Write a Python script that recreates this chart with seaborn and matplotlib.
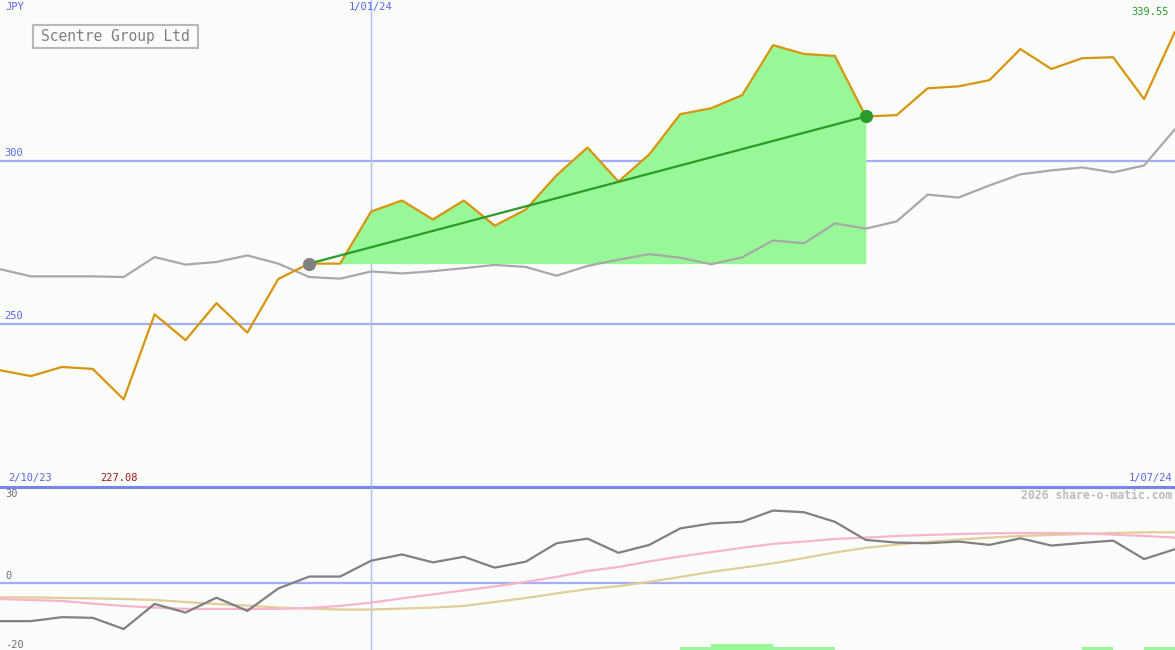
import numpy as np
import matplotlib
matplotlib.use('Agg')
import matplotlib.pyplot as plt
import matplotlib.transforms as mtransforms
from matplotlib.patches import Rectangle
import seaborn as sns

# ---------------------------------------------------------------------------
# Dane (tygodniowe, 2/10/23 - 1/07/24)
# ---------------------------------------------------------------------------
price = [236.0, 234.2, 237.0, 236.4, 227.08, 253.1, 245.2, 256.5, 247.5, 263.9,
         268.6, 268.6, 284.5, 287.9, 282.1, 287.9, 280.2, 285.1, 295.6, 304.1,
         293.7, 302.0, 314.3, 316.1, 320.1, 335.4, 332.7, 332.1, 313.6, 314.0,
         322.2, 322.8, 324.7, 334.2, 328.1, 331.4, 331.7, 318.9, 339.55]

index_rel = [266.9, 264.7, 264.7, 264.7, 264.5, 270.6, 268.3, 269.1, 271.1, 268.6,
             264.5, 264.0, 266.2, 265.6, 266.3, 267.2, 268.2, 267.6, 264.9, 267.9,
             269.8, 271.5, 270.4, 268.4, 270.5, 275.7, 274.8, 280.9, 279.3, 281.5,
             289.7, 288.8, 292.5, 295.9, 297.1, 298.0, 296.5, 298.6, 309.7]

osc = [-11.4, -11.4, -10.2, -10.4, -13.8, -6.2, -8.8, -4.3, -8.3, -1.5,
       2.1, 2.1, 6.9, 8.8, 6.4, 8.1, 4.8, 6.6, 12.2, 13.6,
       9.3, 11.7, 16.7, 18.2, 18.7, 22.1, 21.6, 18.7, 13.2, 12.4,
       12.2, 12.7, 11.7, 13.7, 11.5, 12.3, 13.0, 7.4, 10.4]

osc_fast = [-4.7, -5.0, -5.3, -6.1, -6.8, -7.3, -7.7, -7.7, -7.7, -7.7,
            -7.4, -6.8, -5.8, -4.5, -3.3, -2.1, -0.9, 0.5, 2.0, 3.8,
            5.0, 6.7, 8.2, 9.5, 10.8, 12.0, 12.7, 13.5, 13.9, 14.4,
            14.7, 15.0, 15.2, 15.3, 15.3, 15.2, 14.8, 14.4, 13.9]

osc_slow = [-4.2, -4.2, -4.4, -4.5, -4.7, -5.0, -5.6, -6.2, -6.7, -7.3,
            -7.6, -7.9, -7.9, -7.6, -7.3, -6.8, -5.6, -4.4, -3.0, -1.7,
            -0.8, 0.5, 2.0, 3.5, 4.8, 6.1, 7.7, 9.4, 10.8, 11.8,
            12.6, 13.3, 13.9, 14.4, 14.7, 15.0, 15.3, 15.5, 15.5]

signal_bars = [0, 0, 0, 0, 0, 0, 0, 0, 0, 0,
               0, 0, 0, 0, 0, 0, 0, 0, 0, 0,
               0, 0, 0.9, 1.8, 1.8, 0.9, 0.9, 0, 0, 0,
               0, 0, 0, 0, 0, 0.9, 0, 0.9, 0]

trend_start, trend_end = 10, 28
year_start_idx = 12
date_labels = ['2/10/23', '1/01/24', '1/07/24']
price_gridlines = [300, 250]

# ---------------------------------------------------------------------------
# Styl
# ---------------------------------------------------------------------------
sns.set_style('white')
plt.rcParams['font.family'] = ['DejaVu Sans Mono']

BG = '#fafdfa'
BLUE_GRID = '#a4aef5'
BLUE_TXT = '#5566ee'
ORANGE = '#d8940c'
GREY = '#a8a8a8'
DARK_GREY = '#808080'
PINK = '#f9b4cc'
TAN = '#e2cc9a'
FILL = '#98f898'
GREEN = '#2a9a2a'

x = np.arange(len(price))

fig = plt.figure(figsize=(11.75, 6.5), dpi=100, facecolor=BG)
ax = fig.add_axes([0, 163 / 650, 1, 487 / 650])
ax2 = fig.add_axes([0, 0, 1, 163 / 650])
for a in (ax, ax2):
    a.set_facecolor(BG)
    a.set_xlim(0, len(price) - 1)
    a.set_axis_off()

ax.set_ylim(200.3, 349.2)
ax2.set_ylim(-20.15, 29.24)

# --- panel cenowy ---
for g in price_gridlines:
    ax.axhline(g, color=BLUE_GRID, lw=1.6, zorder=1)
    ax.text(4 / 1175 * 38, g + 1.0, str(g), color=BLUE_TXT, fontsize=7.5,
            va='bottom', ha='left')
ax.axvline(year_start_idx, color='#b0bcf8', lw=1, zorder=1)

ax.fill_between(x[trend_start:trend_end + 1], price[trend_start:trend_end + 1],
                price[trend_start], color=FILL, lw=0, zorder=2)

sns.lineplot(x=x, y=index_rel, ax=ax, color=GREY, lw=1.6, zorder=3)
sns.lineplot(x=x, y=price, ax=ax, color=ORANGE, lw=1.6, zorder=4)
sns.lineplot(x=[trend_start, trend_end], y=[price[trend_start], price[trend_end]],
             ax=ax, color=GREEN, lw=1.6, zorder=5)
ax.plot(trend_start, price[trend_start], 'o', color=DARK_GREY, ms=8.5, zorder=6)
ax.plot(trend_end, price[trend_end], 'o', color=GREEN, ms=8.5, zorder=6)

# linia oddzielająca panele
ax.axhline(200.3, color='#7585ea', lw=2.2, clip_on=False, zorder=7)

# --- panel oscylatora ---
ax2.axhline(0, color=BLUE_GRID, lw=1.6, zorder=1)
ax2.axvline(year_start_idx, color='#b0bcf8', lw=1, zorder=1)
ax2.bar(x, signal_bars, width=1, align='edge', bottom=-20.15, color=FILL, lw=0, zorder=2)
sns.lineplot(x=x, y=osc_slow, ax=ax2, color=TAN, lw=1.6, zorder=3)
sns.lineplot(x=x, y=osc_fast, ax=ax2, color=PINK, lw=1.6, zorder=4)
sns.lineplot(x=x, y=osc, ax=ax2, color=DARK_GREY, lw=1.6, zorder=5)

trans2 = mtransforms.blended_transform_factory(ax2.transAxes, ax2.transData)
ax2.text(5 / 1175, 0.9, '0', color='#707070', fontsize=7.5, va='bottom', ha='left',
         transform=trans2)
ax2.text(5 / 1175, -20.0, '-20', color='#707070', fontsize=7.5, va='bottom', ha='left',
         transform=trans2)
ax2.text(5 / 1175, 0.985, '30', color='#707070', fontsize=7.5, va='top', ha='left',
         transform=ax2.transAxes)
ax2.text(1 - 3 / 1175, 0.985, '2026 share-o-matic.com', color='#bcbcbc', fontsize=8.3,
         fontweight='bold', va='top', ha='right', transform=ax2.transAxes)

# --- etykiety ---
trans = mtransforms.blended_transform_factory(ax.transData, ax.transAxes)
ax.text(year_start_idx, 0.995, date_labels[1], color=BLUE_TXT, fontsize=7.5,
        ha='center', va='top', transform=trans)
ax.text(5 / 1175, 0.995, 'JPY', color=BLUE_TXT, fontsize=7.5, ha='left', va='top',
        transform=ax.transAxes)
ax.text(1 - 6 / 1175, 0.985, f'{price[-1]:.2f}', color=GREEN, fontsize=7.5,
        ha='right', va='top', transform=ax.transAxes)
ax.text(8 / 1175, 0.008, date_labels[0], color=BLUE_TXT, fontsize=7.5,
        ha='left', va='bottom', transform=ax.transAxes)
ax.text(100 / 1175, 0.008, f'{min(price):.2f}', color='#a01818', fontsize=7.5,
        ha='left', va='bottom', transform=ax.transAxes)
ax.text(1 - 3 / 1175, 0.008, date_labels[2], color=BLUE_TXT, fontsize=7.5,
        ha='right', va='bottom', transform=ax.transAxes)

# ramka z nazwą spółki
fig.patches.append(Rectangle((33 / 1175, 1 - 48 / 650), 165 / 1175, 23 / 650,
                             transform=fig.transFigure, fill=False,
                             edgecolor='#b8b8b8', lw=1.5))
fig.text(115 / 1175, 1 - 36.5 / 650, 'Scentre Group Ltd', color='#808080',
         fontsize=10.5, ha='center', va='center')

fig.savefig('out.png', dpi=100, facecolor=BG)
